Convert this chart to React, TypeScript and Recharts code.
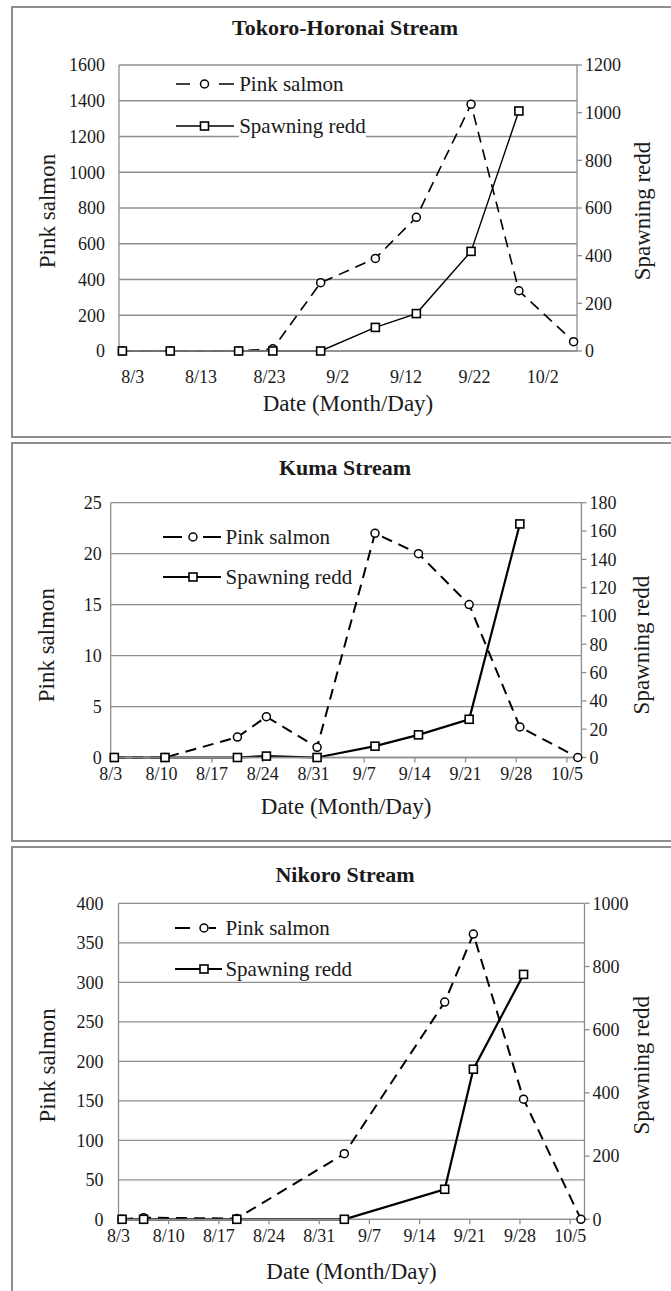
import { LineChart, Line, XAxis, YAxis, CartesianGrid, Legend } from "recharts"

// Tokoro-Horonai Stream (day 0 = 8/3)
const tokoroDays = [-2, 5, 15, 20, 27, 35, 41, 49, 56, 64]
const tokoroPink = [0, 0, 0, 12, 382, 518, 748, 1380, 337, 52]
const tokoroRedd = [0, 0, 0, 0, 0, 99, 157, 418, 1007, null]
const tokoroTickDays = [0, 10, 20, 30, 40, 50, 60]
const tokoroTickLabels = ["8/3", "8/13", "8/23", "9/2", "9/12", "9/22", "10/2"]
const tokoroLeftTicks = [0, 200, 400, 600, 800, 1000, 1200, 1400, 1600]
const tokoroRightTicks = [0, 200, 400, 600, 800, 1000, 1200]

// Kuma Stream
const kumaDays = [0, 7, 17, 21, 28, 36, 42, 49, 56, 64]
const kumaPink = [0, 0, 2, 4, 1, 22, 20, 15, 3, 0]
const kumaRedd = [0, 0, 0, 1, 0, 8, 16, 27, 165, null]
const weeklyTickDays = [0, 7, 14, 21, 28, 35, 42, 49, 56, 63]
const weeklyTickLabels = ["8/3", "8/10", "8/17", "8/24", "8/31", "9/7", "9/14", "9/21", "9/28", "10/5"]
const kumaLeftTicks = [0, 5, 10, 15, 20, 25]
const kumaRightTicks = [0, 20, 40, 60, 80, 100, 120, 140, 160, 180]

// Nikoro Stream
const nikoroDays = [0, 3, 16, 31, 45, 49, 56, 64]
const nikoroPink = [0, 2, 1, 83, 275, 361, 152, 0]
const nikoroRedd = [0, 0, 0, 0, 95, 475, 775, null]
const nikoroLeftTicks = [0, 50, 100, 150, 200, 250, 300, 350, 400]
const nikoroRightTicks = [0, 200, 400, 600, 800, 1000]

const INK = "#1a1a1a"
const GRID = "#8e8e8e"
const FONT = "'Liberation Serif', 'Times New Roman', serif"

const panels = [
  {
    title: "Tokoro-Horonai Stream",
    days: tokoroDays, pink: tokoroPink, redd: tokoroRedd,
    tickDays: tokoroTickDays, tickLabels: tokoroTickLabels,
    leftTicks: tokoroLeftTicks, rightTicks: tokoroRightTicks,
    top: 0, height: 421, mt: 65, yLW: 119, yRW: 94, leftGap: 14,
    xTickSize: 0, xTickMargin: 19, xTitleOffset: 10, sideDy: 3,
    titleBase: 35, box: { top: 6, height: 432 },
    pinkW: 1.6, reddW: 1.4,
    legend: { left: 175.7, top: 69, gap: 42, len: 58, mark: 28.5, dash: "14 29 15", textX: 63.5 },
  },
  {
    title: "Kuma Stream",
    days: kumaDays, pink: kumaPink, redd: kumaRedd,
    tickDays: weeklyTickDays, tickLabels: weeklyTickLabels,
    leftTicks: kumaLeftTicks, rightTicks: kumaRightTicks,
    top: 440, height: 387.5, mt: 62.7, yLW: 110.7, yRW: 89.6, leftGap: 9,
    xTickSize: 5, xTickMargin: 5, xTitleOffset: 14, sideDy: 15,
    titleBase: 475, box: { top: 442, height: 400 },
    pinkW: 2, reddW: 2.2,
    legend: { left: 162.6, top: 81.7, gap: 40, len: 58, mark: 30, dash: "19 21 18", textX: 63 },
  },
  {
    title: "Nikoro Stream",
    days: nikoroDays, pink: nikoroPink, redd: nikoroRedd,
    tickDays: weeklyTickDays, tickLabels: weeklyTickLabels,
    leftTicks: nikoroLeftTicks, rightTicks: nikoroRightTicks,
    top: 844, height: 445.3, mt: 59.3, yLW: 118.5, yRW: 86.5, leftGap: 15,
    xTickSize: 5, xTickMargin: 5, xTitleOffset: 10, sideDy: 4,
    titleBase: 882, box: { top: 846, height: 500 },
    pinkW: 2, reddW: 2.2,
    legend: { left: 175.4, top: 69.3, gap: 41, len: 47, mark: 29, dash: "15 19 7", textX: 50 },
  },
]

const tickStyle = { fontSize: 18, fill: INK, fontFamily: FONT }

const squareDot = (props: any) => {
  const { cx, cy, index } = props
  if (cx == null || cy == null || Number.isNaN(cy)) return <g key={`sq-${index}`} />
  return <rect key={`sq-${index}`} x={cx - 4} y={cy - 4} width={8} height={8} fill="#fff" stroke="#000" strokeWidth={1.6} />
}

const sideTitle = (text: string, cx: number, dy: number) => (props: any) => {
  const vb = props.viewBox || { y: 0, height: 0 }
  const cy = vb.y + vb.height / 2 + dy
  return (
    <text
      x={cx} y={cy} transform={`rotate(-90 ${cx} ${cy})`} textAnchor="middle" dominantBaseline="central"
      fontSize={23} fill={INK} fontFamily={FONT}
    >
      {text}
    </text>
  )
}

function LegendKey({ cfg, lw }: { cfg: any; lw: number }) {
  const h = cfg.gap + 30
  const textStyle: any = {
    position: "absolute", left: cfg.textX, fontSize: 21, lineHeight: "24px",
    background: "#fff", color: INK, whiteSpace: "nowrap", fontFamily: FONT,
  }
  return (
    <div style={{ position: "relative", width: cfg.textX + 150, height: h }}>
      <svg width={cfg.textX} height={h} style={{ position: "absolute", left: 0, top: 0, overflow: "visible" }}>
        <line x1={0} x2={cfg.len} y1={15} y2={15} stroke="#000" strokeWidth={lw} strokeDasharray={cfg.dash} />
        <circle cx={cfg.mark} cy={15} r={4} fill="#fff" stroke="#000" strokeWidth={1.5} />
        <line x1={0} x2={cfg.len} y1={15 + cfg.gap} y2={15 + cfg.gap} stroke="#000" strokeWidth={lw} />
        <rect x={cfg.mark - 4} y={15 + cfg.gap - 4} width={8} height={8} fill="#fff" stroke="#000" strokeWidth={1.6} />
      </svg>
      <span style={{ ...textStyle, top: 3 }}>Pink salmon</span>
      <span style={{ ...textStyle, top: 3 + cfg.gap }}>Spawning redd</span>
    </div>
  )
}

function PanelChart({ p }: { p: any }) {
  const rows = p.days.map((d: number, i: number) => ({ day: d, pink: p.pink[i], redd: p.redd[i] }))
  const first = p.days[0]
  const last = p.days[p.days.length - 1]
  const xTicks = p.tickDays.map((d: number) => d - 0.5)
  const fmt = (v: number) => {
    const i = p.tickDays.indexOf(Math.round(v + 0.5))
    return i >= 0 ? p.tickLabels[i] : ""
  }
  const lMax = p.leftTicks[p.leftTicks.length - 1]
  const rMax = p.rightTicks[p.rightTicks.length - 1]
  return (
    <>
      <div
        style={{
          position: "absolute", left: 11, top: p.box.top, width: 700, height: p.box.height,
          border: `2px solid ${GRID}`, boxSizing: "border-box",
        }}
      />
      <div
        style={{
          position: "absolute", left: 0, width: 690, top: p.titleBase - 18.4, textAlign: "center",
          fontSize: 22, lineHeight: "22px", fontWeight: "bold", color: INK, fontFamily: FONT,
        }}
      >
        {p.title}
      </div>
      <div style={{ position: "absolute", left: 0, top: p.top, fontFamily: FONT }}>
        <LineChart
          width={671}
          height={p.height}
          data={rows}
          margin={{ top: p.mt, right: 0, bottom: 0, left: 0 }}
          style={{ fontFamily: FONT }}
        >
          <CartesianGrid yAxisId="left" vertical={false} stroke={GRID} strokeWidth={1.3} />
          <XAxis
            dataKey="day"
            type="number"
            domain={[first - 0.5, last + 0.5]}
            ticks={xTicks}
            interval={0}
            tickFormatter={fmt}
            height={70}
            axisLine={{ stroke: GRID, strokeWidth: 1.3 }}
            tickLine={p.xTickSize > 0 ? { stroke: GRID, strokeWidth: 1.3 } : false}
            tickSize={p.xTickSize}
            tickMargin={p.xTickMargin}
            tick={tickStyle}
            label={{
              value: "Date (Month/Day)", position: "insideBottom", offset: p.xTitleOffset,
              fontSize: 23, fill: INK, fontFamily: FONT,
            }}
          />
          <YAxis
            yAxisId="left"
            orientation="left"
            width={p.yLW}
            domain={[0, lMax]}
            ticks={p.leftTicks}
            interval={0}
            axisLine={{ stroke: GRID, strokeWidth: 1.3 }}
            tickLine={false}
            tickSize={0}
            tickMargin={p.leftGap}
            tick={tickStyle}
            label={sideTitle("Pink salmon", 47, p.sideDy)}
          />
          <YAxis
            yAxisId="right"
            orientation="right"
            width={p.yRW}
            domain={[0, rMax]}
            ticks={p.rightTicks}
            interval={0}
            axisLine={{ stroke: GRID, strokeWidth: 1.3 }}
            tickLine={{ stroke: GRID, strokeWidth: 1.3 }}
            tickSize={5}
            tickMargin={3}
            tick={tickStyle}
            label={sideTitle("Spawning redd", 642, p.sideDy)}
          />
          <Legend
            layout="vertical"
            verticalAlign="middle"
            align="center"
            wrapperStyle={{ left: p.legend.left, top: p.legend.top, width: "auto" }}
            content={() => <LegendKey cfg={p.legend} lw={p.pinkW} />}
          />
          <Line
            yAxisId="left"
            type="linear"
            dataKey="pink"
            stroke="#000"
            strokeWidth={p.pinkW}
            strokeDasharray="11 7"
            dot={{ r: 4, fill: "#fff", stroke: "#000", strokeWidth: 1.5, strokeDasharray: "none" }}
            activeDot={false}
            isAnimationActive={false}
          />
          <Line
            yAxisId="right"
            type="linear"
            dataKey="redd"
            stroke="#000"
            strokeWidth={p.reddW}
            dot={squareDot}
            activeDot={false}
            isAnimationActive={false}
          />
        </LineChart>
      </div>
    </>
  )
}

export default function App() {
  return (
    <div
      style={{
        position: "absolute", left: 0, top: 0, width: 671, height: 1291, overflow: "hidden",
        background: "#fff", fontFamily: FONT,
      }}
    >
      {panels.map((p) => (
        <PanelChart key={p.title} p={p} />
      ))}
    </div>
  )
}
